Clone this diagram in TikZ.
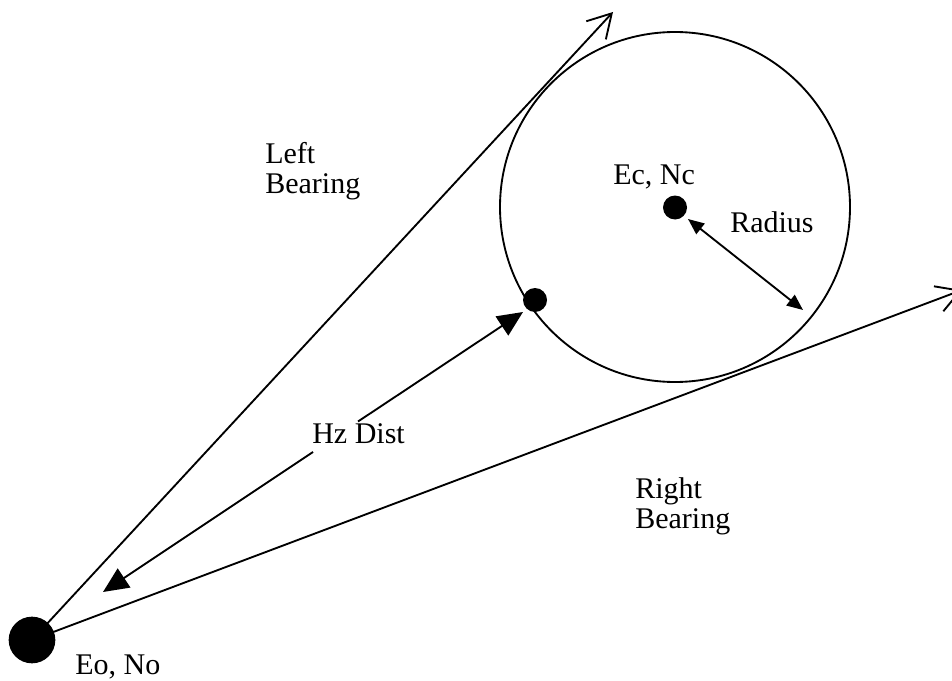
\documentclass[tikz,border=0pt]{standalone}
\usepackage{fontspec}
\setmainfont{Liberation Serif}
\usetikzlibrary{arrows.meta}
\begin{document}
\begin{tikzpicture}[x=0.75pt,y=-0.75pt,
  every node/.style={font=\fontsize{22.5}{22.5}\selectfont},
  lbl/.style={anchor=base west,inner sep=0pt},
  dotnode/.style={circle,fill=black,inner sep=0pt,minimum size=18pt},
  bigdot/.style={circle,fill=black,inner sep=0pt,minimum size=35pt},
  ring/.style={circle,draw=black,line width=1.4pt,inner sep=0pt,minimum size=262.5pt},
  bearing/.style={line width=1.4pt,-{Straight Barb[angle=60:20pt]}},
  hzarrow/.style={line width=1.4pt,-{Triangle[length=19pt,width=17pt]}},
  radarrow/.style={line width=1.4pt,{Triangle[length=12pt,width=10pt]}-{Triangle[length=12pt,width=10pt]}}]
\useasboundingbox (0,0) rectangle (952,681);
% circle and dots
\node[ring] (circ) at (675,207) {};
\node[bigdot] (o) at (32,640) {};
\node[dotnode] (c) at (675,207.5) {};
\node[dotnode] (t) at (535,300) {};
% bearings
\coordinate (lbtip) at (613,12);
\coordinate (rbtip) at (962,290);
\draw[bearing] (o.center) -- (lbtip);
\draw[bearing] (o.center) -- (rbtip);
% radius
\coordinate (ra) at (688,219);
\coordinate (rb) at (803,310);
\draw[radarrow] (ra) -- (rb);
% hz dist (broken by label)
\coordinate (hzlow) at (103,592);
\coordinate (hzhigh) at (523,312);
\coordinate (g1) at (313,452);
\coordinate (g2) at (358,421.5);
\draw[hzarrow] (g1) -- (hzlow);
\draw[hzarrow] (g2) -- (hzhigh);
% labels
\node[lbl] (l1) at (265,163) {Left};
\node[lbl] (l2) at (265,193) {Bearing};
\node[lbl] (ec) at (613,185) {Ec, Nc};
\node[lbl] (rad) at (730,232) {Radius};
\node[lbl] (hz) at (312,443) {Hz Dist};
\node[lbl] (r1) at (635,498) {Right};
\node[lbl] (r2) at (635,528) {Bearing};
\node[lbl] (eo) at (75,674) {Eo, No};
\end{tikzpicture}
\end{document}
